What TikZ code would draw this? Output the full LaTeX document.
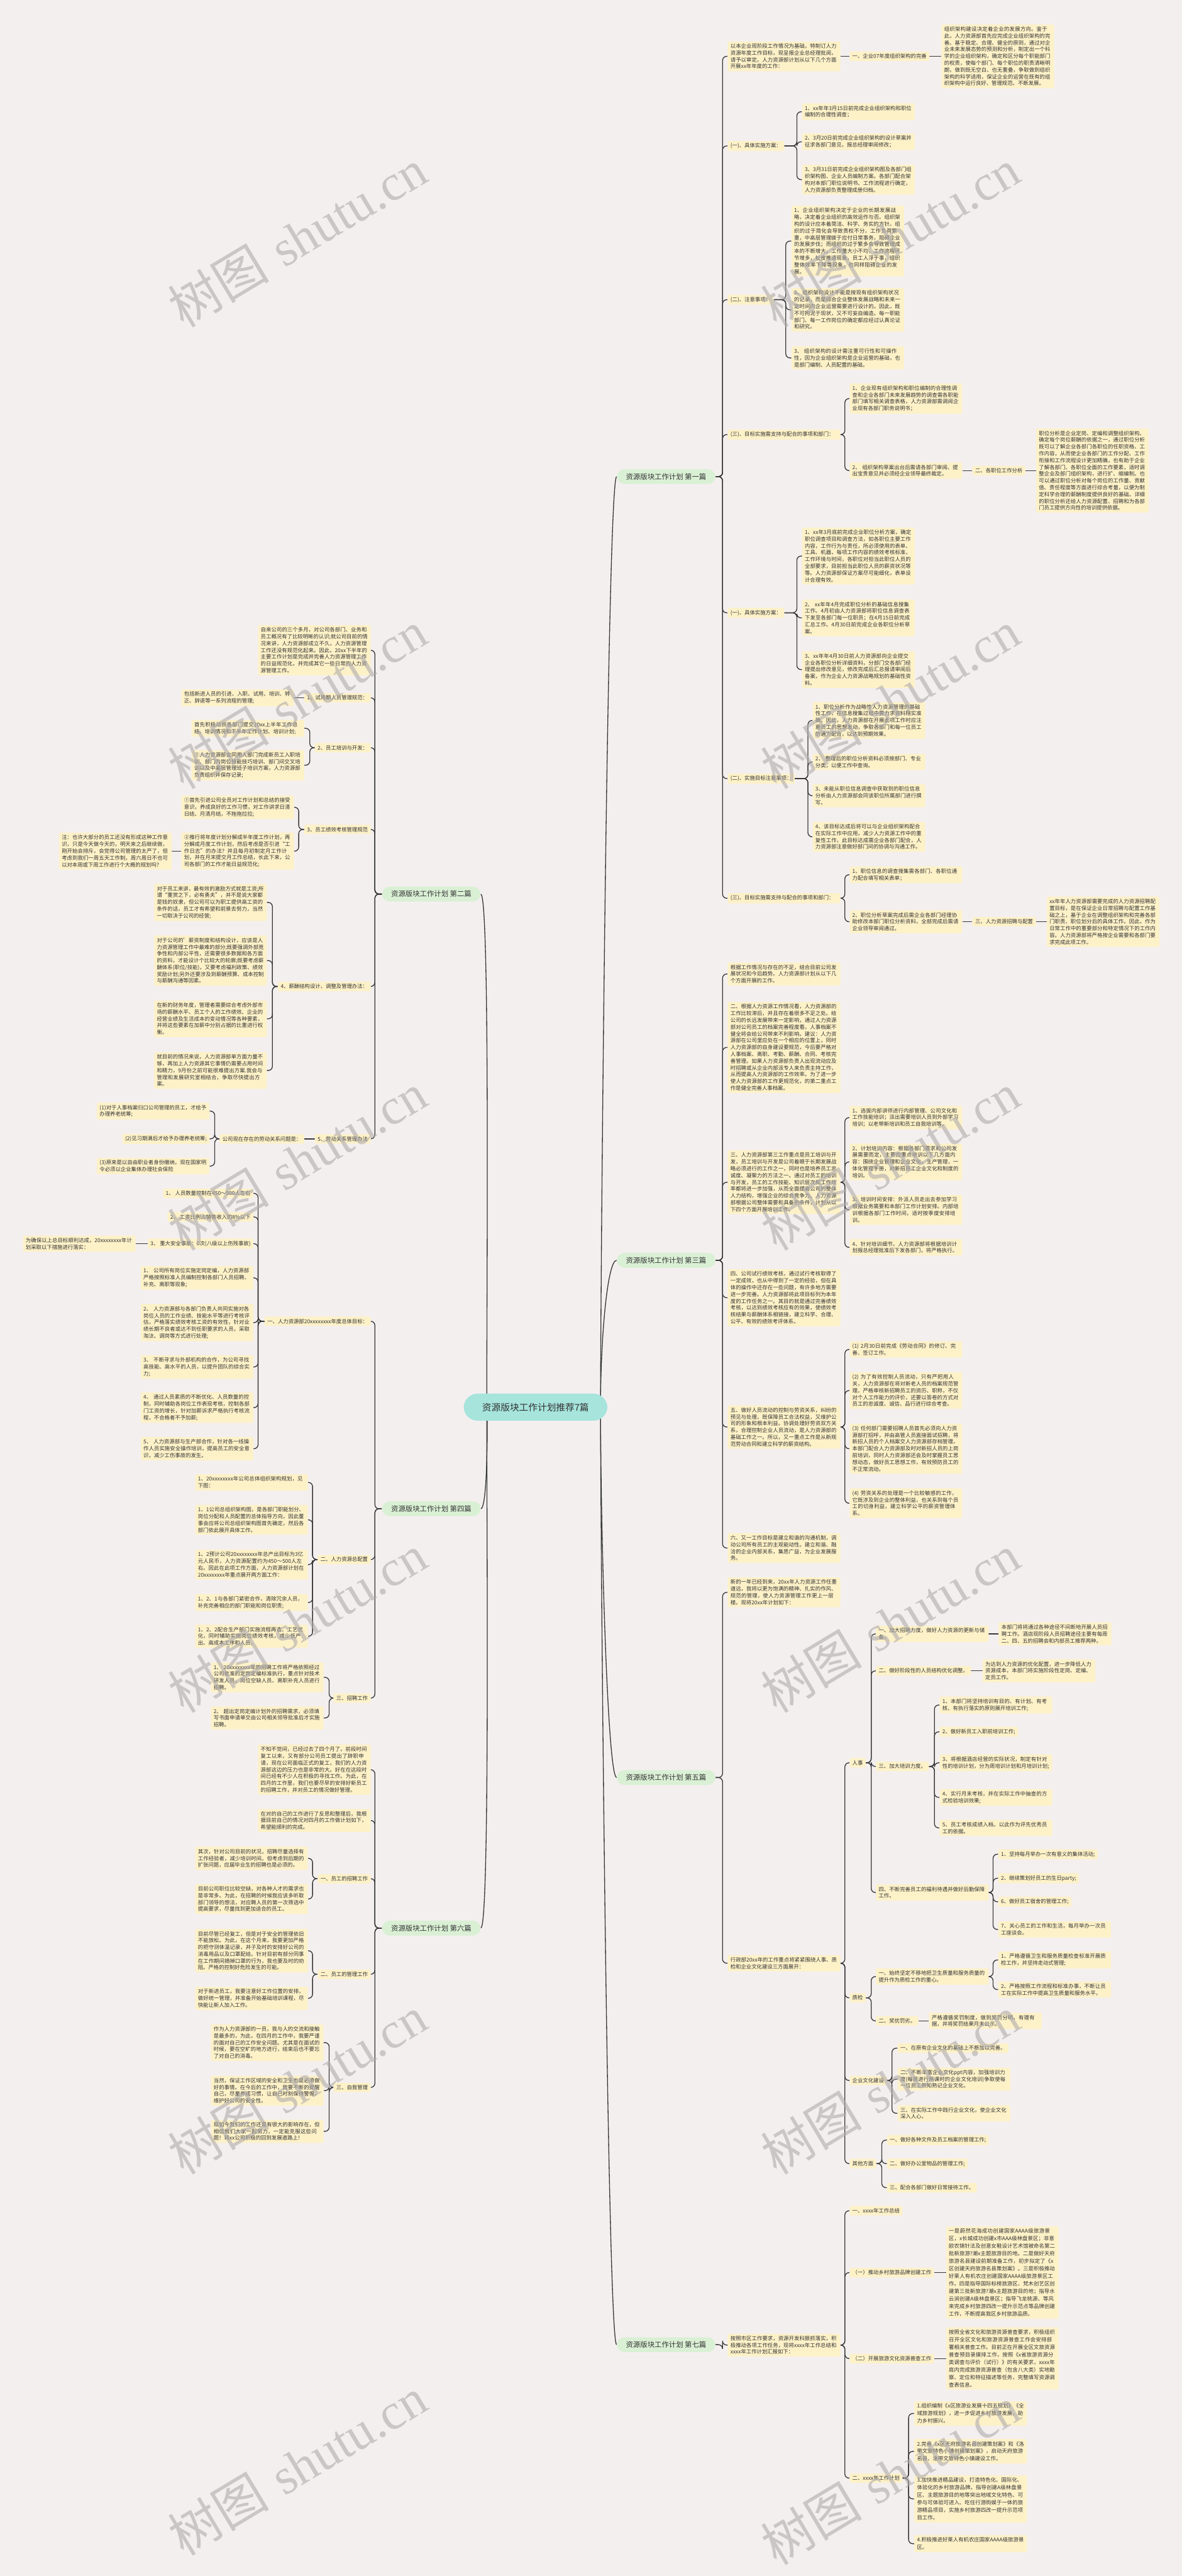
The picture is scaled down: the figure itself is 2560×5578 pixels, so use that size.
\documentclass[tikz,border=0pt]{standalone}
\usepackage{fontspec}
\newfontfamily\cjk{Noto Sans CJK SC}
\newfontfamily\wmlat{Liberation Serif}
\XeTeXlinebreaklocale "zh"
\XeTeXlinebreakskip=0pt plus 1pt
\definecolor{bgc}{HTML}{F4EFEF}
\definecolor{leafc}{HTML}{FDF1C8}
\definecolor{txtc}{HTML}{333333}
\definecolor{linec}{HTML}{383838}
\definecolor{brc}{HTML}{DAF0D5}
\definecolor{ccc}{HTML}{A6E4DC}
\definecolor{wmc}{HTML}{B0ACAC}
\pgfdeclarelayer{bg}
\pgfdeclarelayer{fg}
\pgfsetlayers{bg,main,fg}
\newcommand\rconn[3]{\draw[conn] (#1.east) -- (#1.east -| #2) |- (#3.west);}
\newcommand\lconn[3]{\draw[conn] (#1.west) -- (#1.west -| #2) |- (#3.east);}
\newcommand\rchain[2]{\draw[conn] (#1.east) -- (#2.west);}
\newcommand\lchain[2]{\draw[conn] (#1.west) -- (#2.east);}
\begin{document}
\begin{tikzpicture}[x=1pt,y=-1pt,
  leaf/.style={fill=leafc, rounded corners=3pt, inner xsep=6pt, inner ysep=5pt, text=txtc, align=left, font=\cjk\fontsize{11.4}{14.7}\selectfont},
  leafs/.style={leaf, font=\cjk\fontsize{11.4}{16.3}\selectfont},
  wide/.style={text width=232pt},
  atw/.style={anchor=west},
  ate/.style={anchor=east},
  conn/.style={draw=linec, line width=1.8pt, rounded corners=9pt},
  brnode/.style={fill=brc, rounded corners=17pt, inner xsep=20pt, inner ysep=9pt, text=txtc, font=\cjk\fontsize{15.5}{18}\selectfont},
  ccnode/.style={fill=ccc, rounded corners=30pt, inner xsep=40pt, inner ysep=20pt, text=txtc, font=\cjk\fontsize{20}{24}\selectfont},
  wm/.style={text=wmc, opacity=0.6, rotate=31, font=\fontsize{110}{120}\selectfont}]
\useasboundingbox (0,0) rectangle (2560,5578);
\begin{pgfonlayer}{bg}
\fill[bgc] (0,0) rectangle (2560,5578);
\end{pgfonlayer}

% trunk coordinates
\coordinate (TR) at (1565,0);
\coordinate (Ta) at (1726,0);
\coordinate (Tb) at (1702,0);
\coordinate (Tc) at (1830,0);
\coordinate (Td) at (1750,0);
\coordinate (Te) at (1887,0);
\coordinate (Tf) at (2024,0);
\coordinate (Tg) at (2151,0);
\coordinate (Th) at (1932,0);
\coordinate (Ti) at (1910,0);
\coordinate (Tj) at (1968,0);
\coordinate (TL) at (812,0);
\coordinate (La) at (671,0);
\coordinate (Lb) at (647,0);
\coordinate (Lc) at (590,0);
\coordinate (Ld) at (465,0);
\coordinate (Le) at (559,0);
\coordinate (Lf) at (677,0);
\coordinate (Lg) at (713,0);

% center
\node[ccnode] (cc) at (1160,3047) {资源版块工作计划推荐7篇};

% ================= 第一篇 =================
\node[brnode,ate] (b1) at (1550,1032) {资源版块工作计划 第一篇};
\node[leaf,wide,atw] (n1a) at (1576,122) {以本企业现阶段工作情况为基础，特制订人力资源年度工作目标，现呈报企业总经理批阅，请予以审定。人力资源部计划从以下几个方面开展xx年年度的工作：};
\node[leaf,atw] (n1a1) at (1840,122) {一、企业07年度组织架构的完善};
\node[leaf,wide,atw] (n1a2) at (2039,122) {组织架构建设决定着企业的发展方向。鉴于此，人力资源部首先应完成企业组织架构的完善。基于稳定、合理、健全的原则，通过对企业未来发展态势的预测和分析，制定出一个科学的企业组织架构，确定和区分每个职能部门的权责，使每个部门、每个职位的职责清晰明朗，做到既无空白、也无重叠，争取做到组织架构的科学适用，保证企业的运营在既有的组织架构中运行良好、管理规范、不断发展。};
\node[leaf,atw] (n1b) at (1576,316) {(一)、具体实施方案：};
\node[leaf,wide,atw] (n1b1) at (1737,242) {1、xx年年3月15日前完成企业组织架构和职位编制的合理性调查；};
\node[leaf,wide,atw] (n1b2) at (1737,307) {2、3月20日前完成企业组织架构的设计草案并征求各部门意见，报总经理审阅修改；};
\node[leaf,wide,atw] (n1b3) at (1737,389) {3、3月31日前完成企业组织架构图及各部门组织架构图、企业人员编制方案。各部门配合架构对本部门职位说明书、工作流程进行确定，人力资源部负责整理成册归档。};
\node[leaf,atw] (n1c) at (1576,649) {(二)、注意事项：};
\node[leaf,wide,atw] (n1c1) at (1714,522) {1、企业组织架构决定于企业的长期发展战略，决定着企业组织的高效运作与否。组织架构的设计应本着简洁、科学、务实的方针。组织的过于简化会导致责权不分，工作负荷繁重，中高层管理疲于应付日常事务，阻碍企业的发展步伐；而组织的过于繁多会导致管理成本的不断增大，工作量大小不均，工作流程环节增多，扯皮推诿现象，员工人浮于事，组织整体效率下降等现象，也同样阻碍企业的发展。};
\node[leaf,wide,atw] (n1c2) at (1714,671) {2、组织架构设计不能是按现有组织架构状况的记录，而是综合企业整体发展战略和未来一定时间内企业运营需要进行设计的。因此，既不可拘泥于现状，又不可妄自编造，每一职能部门、每一工作岗位的确定都应经过认真论证和研究。};
\node[leaf,wide,atw] (n1c3) at (1714,775) {3、 组织架构的设计需注重可行性和可操作性，因为企业组织架构是企业运营的基础，也是部门编制、人员配置的基础。};
\node[leaf,wide,atw] (n1d) at (1576,941) {(三)、目标实施需支持与配合的事项和部门：};
\node[leaf,wide,atw] (n1d1) at (1840,863) {1、企业现有组织架构和职位编制的合理性调查和企业各部门未来发展趋势的调查需各职能部门填写相关调查表格，人力资源部需调阅企业现有各部门职务说明书；};
\node[leaf,wide,atw] (n1d2) at (1840,1019) {2、 组织架构草案出台后需请各部门审阅、提出宝贵意见并必须经企业领导最终裁定。};
\node[leaf,atw] (n1d2a) at (2106,1019) {二、各职位工作分析};
\node[leaf,wide,atw] (n1d2b) at (2244,1019) {职位分析是企业定岗、定编和调整组织架构、确定每个岗位薪酬的依据之一，通过职位分析既可以了解企业各部门各职位的任职资格、工作内容，从而使企业各部门的工作分配、工作衔接和工作流程设计更加精确，也有助于企业了解各部门、各职位全面的工作要素，适时调整企业及部门组织架构，进行扩、缩编制。也可以通过职位分析对每个岗位的工作量、贡献值、责任程度等方面进行综合考量，以便为制定科学合理的薪酬制度提供良好的基础。详细的职位分析还给人力资源配置、招聘和为各部门员工提供方向性的培训提供依据。};
\node[leaf,atw] (n1e) at (1576,1327) {(一)、具体实施方案：};
\node[leaf,wide,atw] (n1e1) at (1737,1204) {1、xx年3月底前完成企业职位分析方案，确定职位调查项目和调查方法，如各职位主要工作内容，工作行为与责任，所必须使用的表单、工具、机器，每项工作内容的绩效考核标准，工作环境与时间，各职位对担当此职位人员的全部要求，目前担当此职位人员的薪资状况等等。人力资源部保证方案尽可能细化，表单设计合理有效。};
\node[leaf,wide,atw] (n1e2) at (1737,1338) {2、 xx年年4月完成职位分析的基础信息搜集工作。4月初由人力资源部将职位信息调查表下发至各部门每一位职员；在4月15日前完成汇总工作。4月30日前完成企业各职位分析草案。};
\node[leaf,wide,atw] (n1e3) at (1737,1450) {3、xx年年4月30日前人力资源部向企业提交企业各职位分析详细资料，分部门交各部门经理提出修改意见，修改完成后汇总报请审阅后备案，作为企业人力资源战略规划的基础性资料。};
\node[leaf,atw] (n1f) at (1576,1686) {(二)、实施目标注意事项：};
\node[leaf,wide,atw] (n1f1) at (1760,1560) {1、职位分析作为战略性人力资源管理的基础性工作，在信息搜集过程中要力求资料翔实准确。因此，人力资源部在开展此项工作时应注意员工的思想发动，争取各部门和每一位员工的通力配合，以达到预期效果。};
\node[leaf,wide,atw] (n1f2) at (1760,1650) {2、 整理后的职位分析资料必须按部门、专业分类，以便工作中查询。};
\node[leaf,wide,atw] (n1f3) at (1760,1723) {3、未能从职位信息调查中获取到的职位信息分析由人力资源部会同该职位所属部门进行撰写。};
\node[leaf,wide,atw] (n1f4) at (1760,1812) {4、该目标达成后将可以与企业组织架构配合在实际工作中应用，减少人力资源工作中的重复性工作，此目标达成需企业各部门配合，人力资源部注意做好部门间的协调与沟通工作。};
\node[leaf,wide,atw] (n1g) at (1576,1945) {(三)、目标实施需支持与配合的事项和部门：};
\node[leaf,wide,atw] (n1g1) at (1840,1894) {1、职位信息的调查搜集需各部门、各职位通力配合填写相关表单；};
\node[leaf,wide,atw] (n1g2) at (1840,1996) {2、职位分析草案完成后需企业各部门经理协助修改本部门职位分析资料，全部完成后需请企业领导审阅通过。};
\node[leaf,atw] (n1g2a) at (2106,1996) {三、人力资源招聘与配置};
\node[leaf,wide,atw] (n1g2b) at (2267,1996) {xx年年人力资源部需要完成的人力资源招聘配置目标，是在保证企业日常招聘与配置工作基础之上，基于企业在调整组织架构和完善各部门职责、职位划分后的具体工作。因此，作为日常工作中的重要部分和特定情况下的工作内容。人力资源部将严格按企业需要和各部门要求完成此项工作。};

% ================= 第三篇 =================
\node[brnode,ate] (b3) at (1550,2729) {资源版块工作计划 第三篇};
\node[leaf,wide,atw] (n3a) at (1576,2109) {根据工作情况与存在的不足，结合目前公司发展状况和今后趋势。人力资源部计划从以下几个方面开展的工作。};
\node[leaf,wide,atw] (n3b) at (1576,2268) {二、根据人力资源工作情况看，人力资源部的工作比较滞后，并且存在着很多不足之处。给公司的长远发展带来一定影响，通过人力资源部对公司员工的档案完善程度看，人事档案不健全将会给公司带来不利影响。建议：人力资源部在公司里应处在一个相应的位置上，同时人力资源部的自身建设要规范，今后要严格对人事档案、离职、考勤、薪酬、合同、考核完善管理。如果人力资源部负责人出现流动应及时招聘或从企业内部派专人来负责主持工作，从而提高人力资源部的工作效率。为了进一步使人力资源部的工作更规范化，的第二重点工作是健全完善人事档案。};
\node[leaf,wide,atw] (n3c) at (1576,2560) {三、人力资源部第三工作重点是员工培训与开发，员工培训与开发是公司着眼于长期发展战略必须进行的工作之一，同时也是培养员工忠诚度、凝聚力的方法之一。通过对员工的培训与开发，员工的工作技能、知识层次和工作效率都将进一步加强，从而全面提高公司的整体人力结构，增强企业的综合竞争力。人力资源部根据公司整体需要和具备的条件，计划从以下四个方面开展培训工作。};
\node[leaf,wide,atw] (n3c1) at (1840,2420) {1、选拔内部讲师进行内部管理、公司文化和工作技能培训；派出需要培训人员到外部学习培训；以老带新培训和员工自我培训等。};
\node[leaf,wide,atw] (n3c2) at (1840,2516) {2、计划培训内容：根据各部门需求和公司发展需要而定，主要应重点培训以下几方面内容：围绕企业管理和企业文化，生产管理，一体化管理手册，对新招员工企业文化和制度的培训。};
\node[leaf,wide,atw] (n3c3) at (1840,2620) {3、培训时间安排：外派人员走出去参加学习根据业务需要和本部门工作计划安排。内部培训根据各部门工作时间，适时按季度安排培训。};
\node[leaf,wide,atw] (n3c4) at (1840,2701) {4、针对培训细节，人力资源部将根据培训计划报总经理批准后下发各部门，将严格执行。};
\node[leaf,wide,atw] (n3d) at (1576,2810) {四、公司试行绩效考核，通过试行考核取得了一定成效，也从中得到了一定的经验，但在具体的操作中还存在一些问题，有许多地方需要进一步完善。人力资源部将此项目标列为本年度的工作任务之一。其目的就是通过完善绩效考核，以达到绩效考核应有的效果，使绩效考核结果与薪酬体系相链接，建立科学、合理、公平、有效的绩效考评体系。};
\node[leaf,wide,atw] (n3e) at (1576,3090) {五、做好人员流动的控制与劳资关系，纠纷的预见与处理，既保障员工合法权益，又维护公司的形象和根本利益。协调处理好劳资双方关系，合理控制企业人员流动，是人力资源部的基础工作之一。所以，又一重点工作是从新规范劳动合同和建立科学的薪资结构。};
\node[leaf,wide,atw] (n3e1) at (1840,2922) {(1) 2月30日前完成《劳动合同》的修订、完善、签订工作。};
\node[leaf,wide,atw] (n3e2) at (1840,3011) {(2) 为了有效控制人员流动，只有严把用人关，人力资源部在将对新老人员的档案规范管理。严格审核新招聘员工的资历、职称，不仅对个人工作能力的评价，还要以答卷的方式对员工的忠诚度、诚信、品行进行综合考查。};
\node[leaf,wide,atw] (n3e3) at (1840,3137) {(3) 任何部门需要招聘人员首先必须向人力资源部打招呼，并由高管人员直接面试招聘，将新招人员的个人档案交人力资源部存档管理。本部门配合人力资源部及时对新招人员的上岗前培训，同时人力资源部还会及时掌握员工思想动态，做好员工思想工作，有效预防员工的不正常流动。};
\node[leaf,wide,atw] (n3e4) at (1840,3255) {(4) 劳资关系的处理是一个比较敏感的工作，它既涉及到企业的整体利益，也关系到每个员工的切身利益，建立科学公平的薪资管理体系。};
\node[leaf,wide,atw] (n3f) at (1576,3352) {六、又一工作目标是建立和谐的沟通机制，调动公司所有员工的主观能动性。建立和谐、融洽的企业内部关系，集思广益，为企业发展服务。};

% ================= 第五篇 =================
\node[brnode,ate] (b5) at (1550,3849) {资源版块工作计划 第五篇};
\node[leaf,wide,atw] (n5a) at (1576,3448) {新的一年已经到来，20xx年人力资源工作任重道远，我将以更为饱满的精神、扎实的作风、规范的管理，使人力资源管理工作更上一层楼。现将20xx年计划如下：};
\node[leaf,wide,atw] (n5b) at (1576,4251) {行政部20xx年的工作重点将紧紧围绕人事、质检和企业文化建设三方面展开：};
\node[leaf,atw] (n5r) at (1840,3817) {人事};
\node[leaf,wide,atw] (n5r1) at (1897,3538) {一、加大招聘力度，做好人力资源的更新与储备。};
\node[leaf,wide,atw] (n5r1a) at (2163,3538) {本部门将将通过各种途径不间断地开展人员招聘工作。酒店现阶段人员招聘途径主要有每周二、四、五的招聘会和内部员工推荐两种。};
\node[leaf,atw] (n5r2) at (1897,3618) {二、做好阶段性的人员结构优化调整。};
\node[leaf,wide,atw] (n5r2a) at (2128,3618) {为达到人力资源的优化配置，进一步降低人力资源成本，本部门将实施阶段性定岗、定编、定员工作。};
\node[leaf,atw] (n5r3) at (1897,3825) {三、加大培训力度。};
\node[leaf,wide,atw] (n5r3a) at (2035,3692) {1、本部门将坚持培训有目的、有计划、有考核、有执行落实的原则展开培训工作;};
\node[leaf,atw] (n5r3b) at (2035,3750) {2、做好新员工入职前培训工作;};
\node[leaf,wide,atw] (n5r3c) at (2035,3817) {3、将根据酒店经营的实际状况，制定有针对性的培训计划，分为周培训计划和月培训计划;};
\node[leaf,wide,atw] (n5r3d) at (2035,3892) {4、实行月末考核，并在实际工作中抽查的方式检验培训效果;};
\node[leaf,wide,atw] (n5r3e) at (2035,3958) {5、员工考核成绩入档，以此作为评先优秀员工的依据。};
\node[leaf,wide,atw] (n5r4) at (1897,4098) {四、不断完善员工的福利待遇并做好后勤保障工作。};
\node[leaf,atw] (n5r4a) at (2162,4015) {1、坚持每月举办一次有意义的集体活动;};
\node[leaf,atw] (n5r4b) at (2162,4067) {2、继续策划好员工的生日party;};
\node[leaf,atw] (n5r4c) at (2162,4118) {6、做好员工宿舍的管理工作;};
\node[leaf,wide,atw] (n5r4d) at (2162,4178) {7、关心员工的工作和生活，每月举办一次员工座谈会。};
\node[leaf,atw] (n5q) at (1840,4326) {质检};
\node[leaf,wide,atw] (n5q1) at (1897,4280) {一、始终坚定不移地把卫生质量和服务质量的提升作为质检工作的重心。};
\node[leaf,wide,atw] (n5q1a) at (2162,4244) {1、严格遵循卫生和服务质量检查标准开展质检工作，并坚持走动式管理;};
\node[leaf,wide,atw] (n5q1b) at (2162,4308) {2、严格按照工作流程和标准办事，不断让员工在实际工作中提高卫生质量和服务水平。};
\node[leaf,atw] (n5q2) at (1897,4376) {二、奖优罚劣。};
\node[leaf,wide,atw] (n5q2a) at (2012,4376) {严格遵循奖罚制度，做到奖罚分明，有理有据，并将奖罚结果月末公示。};
\node[leaf,atw] (n5w) at (1840,4505) {企业文化建设};
\node[leaf,atw] (n5w1) at (1944,4435) {一、在原有企业文化的基础上不断加以完善。};
\node[leaf,wide,atw] (n5w2) at (1944,4502) {二、不断丰富企业文化ppt内容，加强培训力度(每周进行两课时的企业文化培训)争取使每一位员工熟知熟记企业文化。};
\node[leaf,wide,atw] (n5w3) at (1944,4576) {三、在实际工作中践行企业文化，使企业文化深入人心。};
\node[leaf,atw] (n5o) at (1840,4685) {其他方面};
\node[leaf,atw] (n5o1) at (1921,4634) {一、做好各种文件及员工档案的管理工作;};
\node[leaf,atw] (n5o2) at (1921,4685) {二、做好办公室物品的管理工作;};
\node[leaf,atw] (n5o3) at (1921,4737) {三、配合各部门做好日常接待工作。};

% ================= 第七篇 =================
\node[brnode,ate] (b7) at (1550,5077) {资源版块工作计划 第七篇};
\node[leaf,wide,atw] (n7a) at (1576,5078) {按照市区工作要求，资源开发科狠抓落实，积极推动各项工作任务，现将xxxx年工作总结和xxxx年工作计划汇报如下：};
\node[leaf,atw] (n7a1) at (1840,4787) {一、xxxx年工作总结};
\node[leaf,atw] (n7a2) at (1840,4921) {（一）推动乡村旅游品牌创建工作};
\node[leafs,wide,atw] (n7a2a) at (2049,4921) {一是蔚然花海成功创建国家AAAA级旅游景区，x长城成功创建x市AAA级林盘景区；非意欧农锦针法及创意女鞋设计艺术馆被命名第二批新旅游?潮x主题旅游目的地。二是做好天府旅游名县建设前期准备工作，初步拟定了《x区创建天府旅游名县策划案》。三是积极推动好莱人有机农庄创建国家AAAA级旅游景区工作。四是指导国际标榜旅游区、梵木创艺区创建第三批新旅游?潮x主题旅游目的地；指导水云涧创建A级林盘景区；指导飞龙桃源、等风来完成乡村旅游四改一提升示范点等品牌创建工作，不断提高我区乡村旅游品质。};
\node[leaf,atw] (n7a3) at (1840,5107) {（二）开展旅游文化资源普查工作};
\node[leafs,wide,atw] (n7a3a) at (2049,5107) {按照全省文化和旅游资源普查要求，积极组织召开全区文化和旅游资源普查工作会安排部署相关普查工作。目前正在开展全区文旅资源普查预目录摸排工作，按照《x省旅游资源分类调查与评价（试行）》的有关要求，xxxx年底内完成旅游资源普查（包含八大类）实地勘察、定位和特征描述等任务，完整填写资源调查表信息。};
\node[leaf,atw] (n7a4) at (1840,5366) {二、xxxx年工作计划};
\node[leafs,wide,atw] (n7a4a) at (1980,5226) {1.组织编制《x区旅游业发展十四五规划》《全域旅游规划》，进一步促进乡村旅游发展，助力乡村振兴。};
\node[leafs,wide,atw] (n7a4b) at (1980,5308) {2.完善《x区天府旅游名县创建策划案》和《洛带文旅特色小镇创建策划案》，启动天府旅游名县、洛带文旅特色小镇建设工作。};
\node[leafs,wide,atw] (n7a4c) at (1980,5411) {3.加快推进精品建设，打造特色化、国际化、体验化的乡村旅游品牌。指导创建A级林盘景区、主题旅游目的地等突出地域文化特色、可参与可体验可进入、吃住行游购娱于一体的旅游精品项目，实施乡村旅游四改一提升示范项目工作。};
\node[leafs,wide,atw] (n7a4d) at (1980,5508) {4.积极推进好莱人有机农庄国家AAAA级旅游景区。};

% ================= 第二篇 =================
\node[brnode,atw] (b2) at (827,1936) {资源版块工作计划 第二篇};
\node[leaf,wide,ate] (n2a) at (803,1408) {自来公司的三个多月，对公司各部门、业务和员工概况有了比较明晰的认识;就公司目前的情况来讲，人力资源部成立不久，人力资源管理工作还没有规范化起来。因此，20xx下半年的主要工作计划是完成并完善人力资源管理工作的日益规范化，并完成其它一些日常的人力资源管理工作。};
\node[leaf,ate] (n2b) at (803,1511) {1、试用期人员管理规范：};
\node[leaf,wide,ate] (n2b1) at (637,1511) {包括新进人员的引进、入职、试用、培训、转正、辞退等一系列流程的管理;};
\node[leaf,ate] (n2c) at (803,1619) {2、员工培训与开发：};
\node[leaf,wide,ate] (n2c1) at (659,1577) {首先积极动员各部门提交20xx上半年工作总结、培训情况和下半年工作计划、培训计划;};
\node[leaf,wide,ate] (n2c2) at (659,1657) {①人力资源部会同用人部门完成新员工入职培训、部门内岗位技能技巧培训、部门间交叉培训以及中高层管理班子培训方案，人力资源部负责组织并保存记录;};
\node[leaf,ate] (n2d) at (803,1796) {3、员工绩效考核管理规范};
\node[leaf,wide,ate] (n2d1) at (637,1748) {①首先引进公司全员对工作计划和总结的接受意识，养成良好的工作习惯，对工作讲求日清日结、月清月结，不拖拖拉拉;};
\node[leaf,wide,ate] (n2d2) at (637,1843) {②推行将年度计划分解成半年度工作计划，再分解成月度工作计划，然后考虑是否引进“工作日志”的办法？并且每月初制定月工作计划，并在月末提交月工作总结，长此下来，公司各部门的工作才能日益规范化;};
\node[leaf,wide,ate] (n2d2a) at (372,1843) {注：也许大部分的员工还没有形成这种工作意识，只是今天做今天的，明天来之后继续做，刚开始会排斥，会觉得公司管理的太严了，但考虑到我们一周五天工作制，周六周日不也可以对本周或下周工作进行个大概的规划吗？};
\node[leaf,ate] (n2e) at (803,2136) {4、薪酬结构设计、调整及管理办法：};
\node[leaf,wide,ate] (n2e1) at (578,1954) {对于员工来讲，最有效的激励方式就是工资;所谓“重赏之下，必有勇夫”，并不是说大家都是钱的奴隶，但公司可以为职工提供高工资的条件的话，员工才有希望和前景去努力，当然一切取决于公司的经营;};
\node[leaf,wide,ate] (n2e2) at (578,2080) {对于公司的’薪资制度和结构设计，应该是人力资源管理工作中最难的部分;既要强调外部竞争性和内部公平性，还需要很多数据和各方面的资料，才能设计个比较大的轮廓;既要考虑薪酬体系(职位/技能)，又要考虑福利政策、绩效奖励计划;另外还要涉及到薪酬预算、成本控制与薪酬沟通等因素。};
\node[leaf,wide,ate] (n2e3) at (578,2206) {在新的财务年度，管理者需要综合考虑外部市场的薪酬水平、员工个人的工作绩效、企业的经营业绩及生活成本的变动情况等各种要素，并将这些要素在加薪中分别占据的比重进行权衡。};
\node[leaf,wide,ate] (n2e4) at (578,2318) {就目前的情况来说，人力资源部单方面力量不够，再加上人力资源其它事情仍需要占用时间和精力，9月份之前可能很难提出方案.我会与管理和发展研究室相结合，争取尽快提出方案。};
\node[leaf,ate] (n2f) at (803,2466) {5、劳动关系管理办法};
\node[leaf,ate] (n2f1) at (659,2466) {公司现在存在的劳动关系问题是：};
\node[leaf,wide,ate] (n2f1a) at (454,2406) {(1)对于人事档案归口公司管理的员工，才给予办理养老统筹;};
\node[leaf,ate] (n2f1b) at (454,2466) {(2)见习期满后才给予办理养老统筹;};
\node[leaf,wide,ate] (n2f1c) at (454,2525) {(3)原来是以自由职业者身份缴纳，现在国家明令必须以企业集体办理社会保险};

% ================= 第四篇 =================
\node[brnode,atw] (b4) at (827,3267) {资源版块工作计划 第四篇};
\node[leaf,ate] (n4a) at (803,2861) {一、人力资源部20xxxxxxxx年度总体目标：};
\node[leaf,ate] (n4a1) at (549,2584) {1、 人员数量控制在450～500人左右};
\node[leaf,ate] (n4a2) at (549,2635) {2、 工资比例占销售收入的8\%以下};
\node[leaf,ate] (n4a3) at (549,2693) {3、 重大安全事故：0次(八级以上伤残事故)};
\node[leaf,wide,ate] (n4a3a) at (294,2693) {为确保以上总目标顺利达成，20xxxxxxxx年计划采取以下措施进行落实：};
\node[leaf,wide,ate] (n4a4) at (549,2767) {1、 公司所有岗位实施定岗定编，人力资源部严格按照标准人员编制控制各部门人员招聘、补充、离职等现象;};
\node[leaf,wide,ate] (n4a5) at (549,2864) {2、 人力资源部与各部门负责人共同实施对各岗位人员的工作业绩、技能水平等进行考核评估，严格落实绩效考核工资的有效性，针对业绩长期不良者或达不到任职要求的人员，采取淘汰、调岗等方式进行处理;};
\node[leaf,wide,ate] (n4a6) at (549,2960) {3、 不断寻求与外部机构的合作，为公司寻找高技能、高水平的人员，以提升团队的综合实力;};
\node[leaf,wide,ate] (n4a7) at (549,3048) {4、 通过人员素质的不断优化、人员数量的控制，同时辅助各岗位工作表现考核，控制各部门工资的增长，针对加薪诉求严格执行考核流程，不合格者不予加薪;};
\node[leaf,wide,ate] (n4a8) at (549,3137) {5、 人力资源部与生产部合作，针对各一线操作人员实施安全操作培训，提高员工的安全意识，减少工伤事故的发生。};
\node[leaf,ate] (n4b) at (803,3377) {二、人力资源总配置};
\node[leaf,wide,ate] (n4b1) at (667,3210) {1、20xxxxxxxx年公司总体组织架构规划，见下图：};
\node[leaf,wide,ate] (n4b2) at (667,3291) {1、1公司总组织架构图，是各部门职能划分、岗位分配和人员配置的总体指导方向，因此董事会应将公司总组织架构图首先确定，然后各部门依此展开具体工作。};
\node[leaf,wide,ate] (n4b3) at (667,3388) {1、2预计公司20xxxxxxxx年总产出目标为3亿元人民币，人力资源配置约为450～500人左右。因此在此项工作方面，人力资源部计划在20xxxxxxxx年重点展开两方面工作：};
\node[leaf,wide,ate] (n4b4) at (667,3470) {1、2、1与各部门紧密合作，清除冗余人员，补充完善相应的部门职能和岗位职责;};
\node[leaf,wide,ate] (n4b5) at (667,3543) {1、2、2配合生产部门实施流程再造、工艺优化，同时辅助实施岗位绩效考核，减少低产出、高成本工序和人员。};
\node[leaf,ate] (n4c) at (803,3677) {三、招聘工作};
\node[leaf,wide,ate] (n4c1) at (701,3632) {1、 20xxxxxxxx年的招聘工作将严格依照经过公司批准的定岗定编标准执行，重点针对技术研发人员、岗位空缺人员、离职补充人员进行招聘。};
\node[leaf,wide,ate] (n4c2) at (701,3720) {2、 超出定岗定编计划外的招聘需求，必须填写书面申请单交由公司相关领导批准后才实施招聘。};

% ================= 第六篇 =================
\node[brnode,atw] (b6) at (827,4175) {资源版块工作计划 第六篇};
\node[leaf,wide,ate] (n6a) at (803,3832) {不知不觉间，已经过去了四个月了。前段时间复工以来，又有部分公司员工提出了辞职申请，现在公司面临正式的复工，我们的人力资源部这边的压力也是非常的大。好在在这段时间已经有不少人在积极的寻找工作。为此，在四月的工作里，我们也要尽早的安排好新员工的招聘工作，并对员工的情况做好管理。};
\node[leaf,wide,ate] (n6b) at (803,3942) {在对的自己的工作进行了反思和整理后，我根据目前自己的情况对四月的工作做计划如下，希望能顺利的完成。};
\node[leaf,ate] (n6c) at (803,4068) {一、员工的招聘工作};
\node[leaf,wide,ate] (n6c1) at (667,4024) {其次，针对公司目前的状况，招聘尽量选择有工作经验者，减少培训时间。但考虑到后期的扩张问题，应届毕业生的招聘也是必须的。};
\node[leaf,wide,ate] (n6c2) at (667,4112) {目前公司职位比较空缺，对各种人才的需求也是非常多。为此，在招聘的时候我应该多听取部门领导的想法，对应聘人员的第一次筛选中提高要求，尽量找到更加适合的员工。};
\node[leaf,ate] (n6d) at (803,4275) {二、员工的管理工作};
\node[leaf,wide,ate] (n6d1) at (667,4224) {目前尽管已经复工，但是对于安全的管理依旧不能放松。为此，在这个月来，我要更加严格的把守测体温记录，并子及时的安排好公司的消毒用品以及口罩配给。针对目前有部分同事在工作期间摘掉口罩的行为，我也要及时的劝阻。严格的控制好危险发生的可能。};
\node[leaf,wide,ate] (n6d2) at (667,4327) {对于新进员工，我要注意好工作位置的安排，做好统一管理，并准备开始基础培训课程，尽快能让新人加入工作。};
\node[leaf,ate] (n6e) at (803,4520) {三、自我管理};
\node[leaf,wide,ate] (n6e1) at (701,4423) {作为人力资源部的一员，我与人的交流和接触是最多的，为此，在四月的工作中，我要严谨的面对自己的工作安全问题。尤其是在面试的时候，要在空旷的地方进行，结束后也不要忘了对自己的消毒。};
\node[leaf,wide,ate] (n6e2) at (701,4527) {当然，保证工作区域的安全和卫生也是必须做好的事情。在今后的工作中，我要不断的提醒自己，尽量养成习惯，让自己时刻保持警惕，维护好公司的安全性。};
\node[leaf,wide,ate] (n6e3) at (701,4615) {现如今我们的工作还是有很大的影响存在，但相信我们大家一起努力，一定能克服这些问题！将xx公司积极的回到发展道路上！};

% ================= connectors =================
\begin{pgfonlayer}{bg}
% center to branches
\draw[conn] ([xshift=-15pt]cc.east) .. controls +(0,-260) and +(-20,0) .. (b1.west);
\draw[conn] ([xshift=-15pt]cc.east) .. controls +(0,-150) and +(-20,0) .. (b3.west);
\draw[conn] ([xshift=-15pt]cc.east) .. controls +(0,260) and +(-20,0) .. (b5.west);
\draw[conn] ([xshift=-15pt]cc.east) .. controls +(0,260) and +(-20,0) .. (b7.west);
\draw[conn] (b2.east) .. controls +(20,0) and +(0,-260) .. ([xshift=50pt]cc.west);
\draw[conn] (b4.east) .. controls +(20,0) and +(0,-120) .. ([xshift=50pt]cc.west);
\draw[conn] (b6.east) .. controls +(20,0) and +(0,260) .. ([xshift=50pt]cc.west);
% 第一篇
\rconn{b1}{TR}{n1a} \rconn{b1}{TR}{n1b} \rconn{b1}{TR}{n1c} \rconn{b1}{TR}{n1d}
\rconn{b1}{TR}{n1e} \rconn{b1}{TR}{n1f} \rconn{b1}{TR}{n1g}
\rchain{n1a}{n1a1} \rchain{n1a1}{n1a2}
\rconn{n1b}{Ta}{n1b1} \rconn{n1b}{Ta}{n1b2} \rconn{n1b}{Ta}{n1b3}
\rconn{n1c}{Tb}{n1c1} \rconn{n1c}{Tb}{n1c2} \rconn{n1c}{Tb}{n1c3}
\rconn{n1d}{Tc}{n1d1} \rconn{n1d}{Tc}{n1d2}
\rchain{n1d2}{n1d2a} \rchain{n1d2a}{n1d2b}
\rconn{n1e}{Ta}{n1e1} \rconn{n1e}{Ta}{n1e2} \rconn{n1e}{Ta}{n1e3}
\rconn{n1f}{Td}{n1f1} \rconn{n1f}{Td}{n1f2} \rconn{n1f}{Td}{n1f3} \rconn{n1f}{Td}{n1f4}
\rconn{n1g}{Tc}{n1g1} \rconn{n1g}{Tc}{n1g2}
\rchain{n1g2}{n1g2a} \rchain{n1g2a}{n1g2b}
% 第三篇
\rconn{b3}{TR}{n3a} \rconn{b3}{TR}{n3b} \rconn{b3}{TR}{n3c} \rconn{b3}{TR}{n3d}
\rconn{b3}{TR}{n3e} \rconn{b3}{TR}{n3f}
\rconn{n3c}{Tc}{n3c1} \rconn{n3c}{Tc}{n3c2} \rconn{n3c}{Tc}{n3c3} \rconn{n3c}{Tc}{n3c4}
\rconn{n3e}{Tc}{n3e1} \rconn{n3e}{Tc}{n3e2} \rconn{n3e}{Tc}{n3e3} \rconn{n3e}{Tc}{n3e4}
% 第五篇
\rconn{b5}{TR}{n5a} \rconn{b5}{TR}{n5b}
\rconn{n5b}{Tc}{n5r} \rconn{n5b}{Tc}{n5q} \rconn{n5b}{Tc}{n5w} \rconn{n5b}{Tc}{n5o}
\rconn{n5r}{Te}{n5r1} \rconn{n5r}{Te}{n5r2} \rconn{n5r}{Te}{n5r3} \rconn{n5r}{Te}{n5r4}
\rchain{n5r1}{n5r1a} \rchain{n5r2}{n5r2a}
\rconn{n5r3}{Tf}{n5r3a} \rconn{n5r3}{Tf}{n5r3b} \rconn{n5r3}{Tf}{n5r3c} \rconn{n5r3}{Tf}{n5r3d} \rconn{n5r3}{Tf}{n5r3e}
\rconn{n5r4}{Tg}{n5r4a} \rconn{n5r4}{Tg}{n5r4b} \rconn{n5r4}{Tg}{n5r4c} \rconn{n5r4}{Tg}{n5r4d}
\rconn{n5q}{Te}{n5q1} \rconn{n5q}{Te}{n5q2}
\rconn{n5q1}{Tg}{n5q1a} \rconn{n5q1}{Tg}{n5q1b}
\rchain{n5q2}{n5q2a}
\rconn{n5w}{Th}{n5w1} \rconn{n5w}{Th}{n5w2} \rconn{n5w}{Th}{n5w3}
\rconn{n5o}{Ti}{n5o1} \rconn{n5o}{Ti}{n5o2} \rconn{n5o}{Ti}{n5o3}
% 第七篇
\rconn{b7}{TR}{n7a}
\rconn{n7a}{Tc}{n7a1} \rconn{n7a}{Tc}{n7a2} \rconn{n7a}{Tc}{n7a3} \rconn{n7a}{Tc}{n7a4}
\rchain{n7a2}{n7a2a} \rchain{n7a3}{n7a3a}
\rconn{n7a4}{Tj}{n7a4a} \rconn{n7a4}{Tj}{n7a4b} \rconn{n7a4}{Tj}{n7a4c} \rconn{n7a4}{Tj}{n7a4d}
% 第二篇
\lconn{b2}{TL}{n2a} \lconn{b2}{TL}{n2b} \lconn{b2}{TL}{n2c} \lconn{b2}{TL}{n2d}
\lconn{b2}{TL}{n2e} \lconn{b2}{TL}{n2f}
\lchain{n2b}{n2b1}
\lconn{n2c}{La}{n2c1} \lconn{n2c}{La}{n2c2}
\lconn{n2d}{Lb}{n2d1} \lconn{n2d}{Lb}{n2d2}
\lchain{n2d2}{n2d2a}
\lconn{n2e}{Lc}{n2e1} \lconn{n2e}{Lc}{n2e2} \lconn{n2e}{Lc}{n2e3} \lconn{n2e}{Lc}{n2e4}
\lchain{n2f}{n2f1}
\lconn{n2f1}{Ld}{n2f1a} \lconn{n2f1}{Ld}{n2f1b} \lconn{n2f1}{Ld}{n2f1c}
% 第四篇
\lconn{b4}{TL}{n4a} \lconn{b4}{TL}{n4b} \lconn{b4}{TL}{n4c}
\lconn{n4a}{Le}{n4a1} \lconn{n4a}{Le}{n4a2} \lconn{n4a}{Le}{n4a3} \lconn{n4a}{Le}{n4a4}
\lconn{n4a}{Le}{n4a5} \lconn{n4a}{Le}{n4a6} \lconn{n4a}{Le}{n4a7} \lconn{n4a}{Le}{n4a8}
\lchain{n4a3}{n4a3a}
\lconn{n4b}{Lf}{n4b1} \lconn{n4b}{Lf}{n4b2} \lconn{n4b}{Lf}{n4b3} \lconn{n4b}{Lf}{n4b4} \lconn{n4b}{Lf}{n4b5}
\lconn{n4c}{Lg}{n4c1} \lconn{n4c}{Lg}{n4c2}
% 第六篇
\lconn{b6}{TL}{n6a} \lconn{b6}{TL}{n6b} \lconn{b6}{TL}{n6c} \lconn{b6}{TL}{n6d} \lconn{b6}{TL}{n6e}
\lconn{n6c}{Lf}{n6c1} \lconn{n6c}{Lf}{n6c2}
\lconn{n6d}{Lf}{n6d1} \lconn{n6d}{Lf}{n6d2}
\lconn{n6e}{Lg}{n6e1} \lconn{n6e}{Lg}{n6e2} \lconn{n6e}{Lg}{n6e3}
\end{pgfonlayer}

% ================= watermarks =================
\begin{pgfonlayer}{fg}
\node[wm] (w1) at (644,515) {{\cjk 树图} {\wmlat shutu.cn}};
\node[wm] (w2) at (644,1515) {{\cjk 树图} {\wmlat shutu.cn}};
\node[wm] (w3) at (644,2515) {{\cjk 树图} {\wmlat shutu.cn}};
\node[wm] (w4) at (644,3515) {{\cjk 树图} {\wmlat shutu.cn}};
\node[wm] (w5) at (644,4515) {{\cjk 树图} {\wmlat shutu.cn}};
\node[wm] (w6) at (644,5340) {{\cjk 树图} {\wmlat shutu.cn}};
\node[wm] (w7) at (1928,515) {{\cjk 树图} {\wmlat shutu.cn}};
\node[wm] (w8) at (1928,1515) {{\cjk 树图} {\wmlat shutu.cn}};
\node[wm] (w9) at (1928,2515) {{\cjk 树图} {\wmlat shutu.cn}};
\node[wm] (w10) at (1928,3515) {{\cjk 树图} {\wmlat shutu.cn}};
\node[wm] (w11) at (1928,4515) {{\cjk 树图} {\wmlat shutu.cn}};
\node[wm] (w12) at (1928,5360) {{\cjk 树图} {\wmlat shutu.cn}};
\end{pgfonlayer}
\end{tikzpicture}
\end{document}
